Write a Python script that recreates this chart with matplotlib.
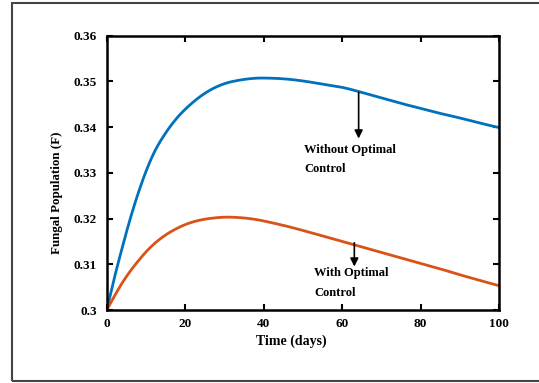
"""
Fungal population over time, with and without optimal control.
"""

import matplotlib
matplotlib.use("Agg")
import matplotlib.pyplot as plt
from matplotlib.patches import Rectangle
import numpy as np

# -----------------------------------------------------------------------------
# DATA
# -----------------------------------------------------------------------------
time_days = [0, 2, 4, 6, 8, 10, 12, 15, 18, 21, 24, 27, 30, 34, 38, 42,
             46, 50, 55, 60, 65, 70, 75, 80, 85, 90, 95, 100]
without_control = [0.3000, 0.3072, 0.3138, 0.3200, 0.3255, 0.3303, 0.3343,
                   0.3387, 0.3421, 0.3447, 0.3468, 0.3484, 0.3495, 0.3503,
                   0.3507, 0.3507, 0.3505, 0.3501, 0.3494, 0.3487, 0.3476,
                   0.3464, 0.3452, 0.3441, 0.3430, 0.3420, 0.3409, 0.3399]
with_control = [0.3000, 0.3031, 0.3060, 0.3085, 0.3107, 0.3127, 0.3144,
                0.3164, 0.3179, 0.3190, 0.3197, 0.3201, 0.3203, 0.3202,
                0.3198, 0.3191, 0.3183, 0.3174, 0.3162, 0.3150, 0.3138,
                0.3126, 0.3114, 0.3102, 0.3090, 0.3077, 0.3065, 0.3053]

x_ticks = [0, 20, 40, 60, 80, 100]
y_ticks = [0.30, 0.31, 0.32, 0.33, 0.34, 0.35, 0.36]
y_tick_labels = ["0.3", "0.31", "0.32", "0.33", "0.34", "0.35", "0.36"]

BLUE = "#0072BD"
ORANGE = "#D95319"


def smooth(x, y, n=400):
    """Cubic Hermite curve through the read points."""
    x = np.asarray(x, float)
    y = np.asarray(y, float)
    xs = np.linspace(x[0], x[-1], n)
    d = np.gradient(y, x)
    i = np.clip(np.searchsorted(x, xs, side="right") - 1, 0, len(x) - 2)
    h = x[i + 1] - x[i]
    t = (xs - x[i]) / h
    h00 = 2 * t**3 - 3 * t**2 + 1
    h10 = t**3 - 2 * t**2 + t
    h01 = -2 * t**3 + 3 * t**2
    h11 = t**3 - t**2
    ys = h00 * y[i] + h10 * h * d[i] + h01 * y[i + 1] + h11 * h * d[i + 1]
    return xs, ys


plt.rcParams["font.family"] = ["Liberation Serif", "DejaVu Serif"]
plt.rcParams["font.weight"] = "bold"

fig = plt.figure(figsize=(5.39, 3.83), dpi=100)
ax = fig.add_axes([0.198, 0.1906, 0.728, 0.7162])

xs, ys = smooth(time_days, without_control)
ax.plot(xs, ys, color=BLUE, linewidth=2)
xs, ys = smooth(time_days, with_control)
ax.plot(xs, ys, color=ORANGE, linewidth=2)

ax.set_xlim(0, 100)
ax.set_ylim(0.30, 0.36)
ax.set_xticks(x_ticks)
ax.set_xticklabels([str(v) for v in x_ticks])
ax.set_yticks(y_ticks)
ax.set_yticklabels(y_tick_labels)
ax.tick_params(direction="in", length=4, width=1.5, labelsize=9.5,
               top=True, right=True, pad=7)
ax.tick_params(axis="x", pad=6)
for sp in ax.spines.values():
    sp.set_linewidth(1.8)

ax.set_xlabel("Time (days)", fontsize=10, fontweight="bold")
ax.xaxis.set_label_coords(0.471, -0.09)
ax.set_ylabel("Fungal Population (F)", fontsize=9.4, fontweight="bold")
ax.yaxis.set_label_coords(-0.112, 0.427)

# annotations
ax.annotate("", xy=(64.2, 0.3375), xytext=(64.2, 0.3476),
            arrowprops=dict(arrowstyle="-|>", color="black", lw=1.2,
                            mutation_scale=12, shrinkA=0, shrinkB=0))
ax.text(50.3, 0.3350, "Without Optimal", fontsize=9, fontweight="bold",
        va="center")
ax.text(50.3, 0.3309, "Control", fontsize=9, fontweight="bold",
        va="center")

ax.annotate("", xy=(63.1, 0.3095), xytext=(63.1, 0.3147),
            arrowprops=dict(arrowstyle="-|>", color="black", lw=1.2,
                            mutation_scale=12, shrinkA=0, shrinkB=0))
ax.text(52.8, 0.3081, "With Optimal", fontsize=9, fontweight="bold",
        va="center")
ax.text(52.8, 0.3037, "Control", fontsize=9, fontweight="bold",
        va="center")

# outer frame
fig.add_artist(Rectangle((0.0223, 0.005), 1.2, 0.987, transform=fig.transFigure,
                         fill=False, edgecolor="#444444", linewidth=1.5,
                         clip_on=False))

fig.savefig("out.png", dpi=100)
